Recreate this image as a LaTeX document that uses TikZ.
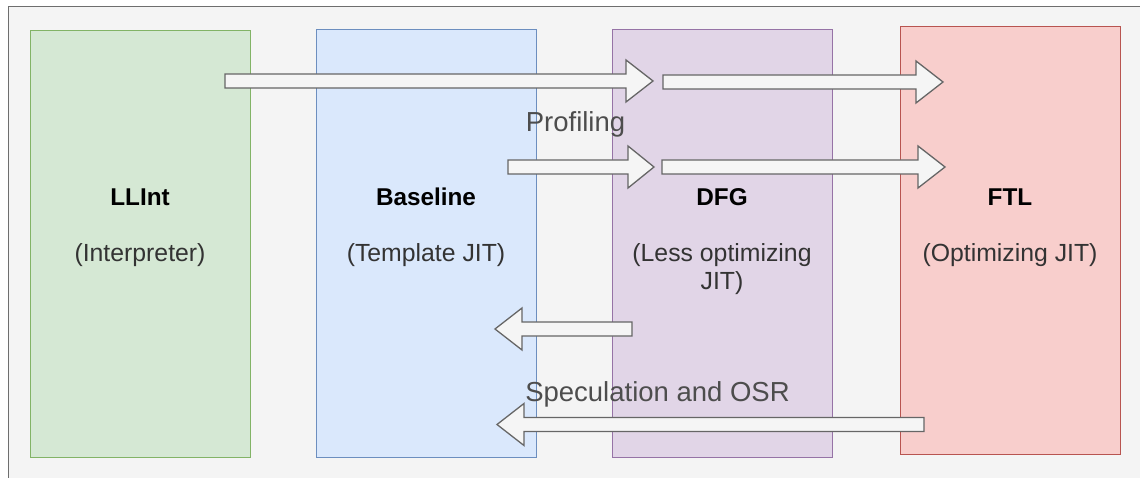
\documentclass[tikz,border=0pt]{standalone}
\usepackage{fontspec}
\setmainfont{Liberation Sans}
\definecolor{bgc}{HTML}{F4F4F4}
\definecolor{framec}{HTML}{6E6E6E}
\definecolor{gfill}{HTML}{D5E8D4}\definecolor{gline}{HTML}{82B366}
\definecolor{bfill}{HTML}{DAE8FC}\definecolor{bline}{HTML}{6C8EBF}
\definecolor{pfill}{HTML}{E1D5E7}\definecolor{pline}{HTML}{9673A6}
\definecolor{rfill}{HTML}{F8CECC}\definecolor{rline}{HTML}{B85450}
\definecolor{arrfill}{HTML}{F5F5F5}\definecolor{arrline}{HTML}{666666}
\definecolor{subc}{HTML}{333333}\definecolor{labc}{HTML}{4D4D4D}
\newcommand\flatarr[4]{\draw[farrow] ({#1},{#3-7}) -- ({#2-#4},{#3-7}) -- ({#2-#4},{#3-21}) -- ({#2},{#3}) -- ({#2-#4},{#3+21}) -- ({#2-#4},{#3+7}) -- ({#1},{#3+7}) -- cycle;}
\begin{document}
\begin{tikzpicture}[x=1pt,y=-1pt,
  box/.style={rectangle,inner sep=0pt,minimum width=220pt,line width=1pt},
  title/.style={anchor=base,font=\fontsize{24.3}{28}\selectfont\bfseries,text=black},
  sub/.style={anchor=base,font=\fontsize{24.8}{28}\selectfont,text=subc},
  lab/.style={anchor=base,font=\fontsize{27.5}{32}\selectfont,text=labc},
  farrow/.style={fill=arrfill,draw=arrline,line width=1.3pt,line join=miter}]
\useasboundingbox (0,0) rectangle (1140,478);
\fill[bgc] (8,7) rectangle (1140,478);
\draw[framec,line width=1pt] (8,478) -- (8,7) -- (1140,7);
% boxes
\node[box,fill=gfill,draw=gline,minimum height=426pt] (llint) at (140,244) {};
\node[box,fill=bfill,draw=bline,minimum height=427pt] (base) at (426,243.5) {};
\node[box,fill=pfill,draw=pline,minimum height=427pt] (dfg) at (722,243.5) {};
\node[box,fill=rfill,draw=rline,minimum height=427pt] (ftl) at (1010,240.5) {};
% arrows
\flatarr{225}{653}{81}{27}
\flatarr{663}{943}{82}{27}
\flatarr{508}{654}{167}{26}
\flatarr{662}{945}{167}{27}
\flatarr{632}{495}{329}{-27}
\flatarr{924}{497}{424.5}{-27}
% texts
\node[title] (t1) at (140,205.5) {LLInt};
\node[sub] (s1) at (140,261.5) {(Interpreter)};
\node[title] (t2) at (426,205.5) {Baseline};
\node[sub] (s2) at (426,261.5) {(Template JIT)};
\node[title] (t3) at (722,205.5) {DFG};
\node[sub] (s3) at (722,261.5) {(Less optimizing};
\node[sub] (s3b) at (722,290) {JIT)};
\node[title] (t4) at (1010,205.5) {FTL};
\node[sub] (s4) at (1010,261.5) {(Optimizing JIT)};
\node[lab] (prof) at (575.5,131.5) {Profiling};
\node[lab] (spec) at (657.5,401.5) {Speculation and OSR};
\end{tikzpicture}
\end{document}
